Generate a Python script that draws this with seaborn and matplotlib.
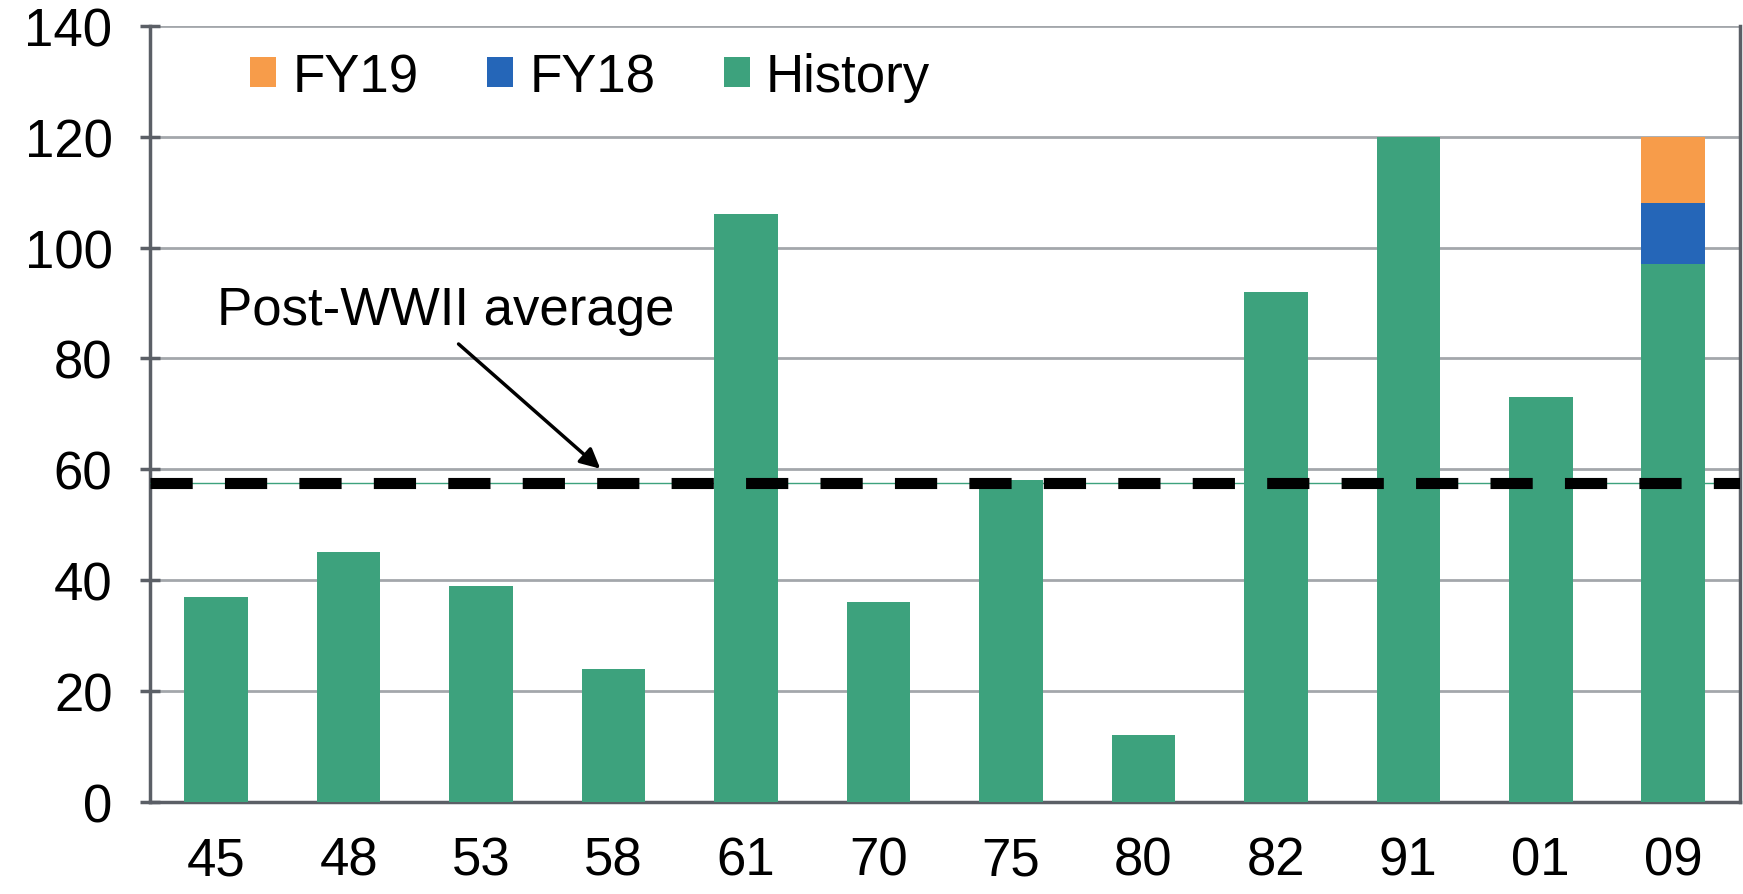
import numpy as np
import pandas as pd
import matplotlib
matplotlib.use("Agg")
import matplotlib.pyplot as plt
import seaborn as sns
from matplotlib.patches import Patch

# ---- data ----
years = ["45", "48", "53", "58", "61", "70", "75", "80", "82", "91", "01", "09"]
history = [37, 45, 39, 24, 106, 36, 58, 12, 92, 120, 73, 97]
fy18 = [0, 0, 0, 0, 0, 0, 0, 0, 0, 0, 0, 11]
fy19 = [0, 0, 0, 0, 0, 0, 0, 0, 0, 0, 0, 12]
post_wwii_avg = 57.6
y_ticks = [0, 20, 40, 60, 80, 100, 120, 140]

C_HIST = "#3DA27D"
C_FY18 = "#2566B8"
C_FY19 = "#F79C4A"
C_GRID = "#A3A7AB"
C_SPINE = "#5B5F66"

sns.set_theme(style="white")
plt.rcParams["font.family"] = ["Liberation Sans", "DejaVu Sans"]
plt.rcParams["text.color"] = "black"

df = pd.DataFrame({"year": years, "History": history, "FY18": fy18, "FY19": fy19})
df["lvl_hist"] = df["History"]
df["lvl_fy18"] = df["History"] + df["FY18"]
df["lvl_fy19"] = df["History"] + df["FY18"] + df["FY19"]

fig = plt.figure(figsize=(17.43, 8.95), dpi=100)
ax = fig.add_axes([0.086, 0.103, 0.912, 0.867])

FS = 38
w = 0.48
sns.barplot(data=df, x="year", y="lvl_fy19", color=C_FY19, width=w, ax=ax,
            order=years, saturation=1, linewidth=0, zorder=3)
sns.barplot(data=df, x="year", y="lvl_fy18", color=C_FY18, width=w, ax=ax,
            order=years, saturation=1, linewidth=0, zorder=3)
sns.barplot(data=df, x="year", y="lvl_hist", color=C_HIST, width=w, ax=ax,
            order=years, saturation=1, linewidth=0, zorder=3)

ax.set_xlim(-0.5, len(years) - 0.5)
ax.set_ylim(0, 140)
ax.set_yticks(y_ticks)
ax.yaxis.grid(True, color=C_GRID, linewidth=2, zorder=0)
ax.set_axisbelow(True)
ax.set_xlabel("")
ax.set_ylabel("")

for s in ["left", "bottom", "right"]:
    ax.spines[s].set_visible(True)
    ax.spines[s].set_color(C_SPINE)
    ax.spines[s].set_linewidth(2.5)
ax.spines["top"].set_visible(False)

ax.tick_params(axis="y", which="major", direction="inout", length=14, width=2.5,
               color=C_SPINE, labelsize=FS, pad=20, left=True, labelcolor="black")
ax.tick_params(axis="x", which="major", length=0, labelsize=FS, pad=24, labelcolor="black")

# average line
ax.axhline(post_wwii_avg, color=C_HIST, linewidth=1, zorder=4)
ax.axhline(post_wwii_avg, color="black", linewidth=8, linestyle=(0, (3.8, 2.9)),
           dash_capstyle="butt", zorder=5)

ax.text(1.73, 88.8, "Post-WWII average", fontsize=FS, ha="center", va="center",
        color="black", zorder=6)
ax.annotate("", xy=(2.9, 60.1), xytext=(1.83, 82.6),
            arrowprops=dict(arrowstyle="-|>", color="black", lw=2.5,
                            mutation_scale=30, shrinkA=0, shrinkB=0),
            zorder=6)

handles = [Patch(facecolor=C_FY19, edgecolor="none", label="FY19"),
           Patch(facecolor=C_FY18, edgecolor="none", label="FY18"),
           Patch(facecolor=C_HIST, edgecolor="none", label="History")]
leg = ax.legend(handles=handles, ncol=3, loc="center left",
                bbox_to_anchor=(0.063, 0.934), frameon=False, fontsize=FS,
                handlelength=0.5, handleheight=0.5, handletextpad=0.3,
                columnspacing=1.3, borderpad=0, borderaxespad=0,
                labelcolor="black")

fig.savefig("out.png", dpi=100)
